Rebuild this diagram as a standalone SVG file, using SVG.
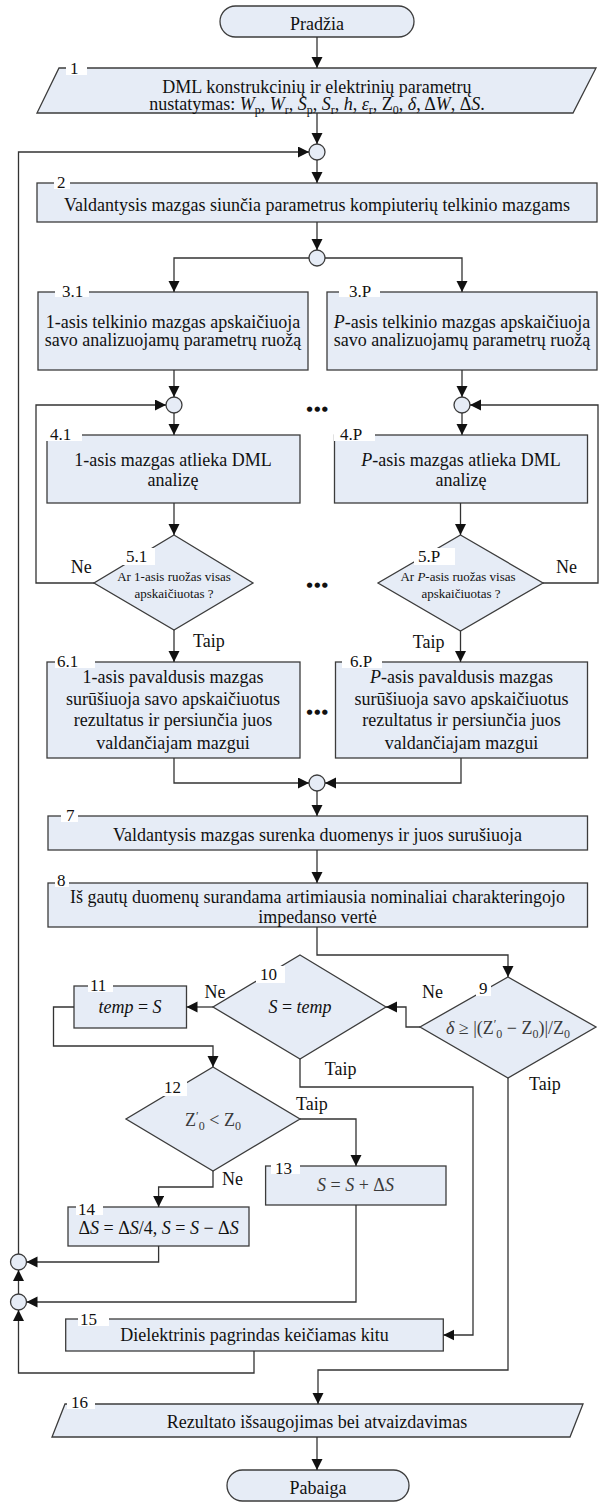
<svg xmlns="http://www.w3.org/2000/svg" width="599" height="1503" viewBox="0 0 599 1503">
<defs>
<marker id="ah" markerUnits="userSpaceOnUse" markerWidth="12" markerHeight="12" refX="11" refY="5.5" orient="auto"><path d="M0,0 L11,5.5 L0,11 Z" fill="#111"/></marker>
<style>
.b{fill:#e6ecf6;stroke:#3c3c3c;stroke-width:1.3}
.ln{fill:none;stroke:#333;stroke-width:1.3;marker-end:url(#ah)}
.t{font-family:"Liberation Serif","Times New Roman",serif;font-size:18px;fill:#111;text-anchor:middle}
.lb{font-family:"Liberation Serif","Times New Roman",serif;font-size:17px;fill:#111}
.yn{font-family:"Liberation Serif","Times New Roman",serif;font-size:18px;fill:#111}
.sm{font-size:13px}
.gr{fill:#3a3a3a}
.i{font-style:italic}
.sb{font-size:12px}
.w{fill:#fff}
.dots{font-family:"DejaVu Sans",sans-serif;font-size:7px;fill:#111;text-anchor:middle;letter-spacing:1.5px}
</style>
</defs>
<rect width="599" height="1503" fill="#fff"/>

<g id="start"><rect class="b" x="220" y="6" width="194" height="31" rx="15.5"/><text class="t" x="317" y="30">Pradžia</text></g>

<g id="n1"><path class="b" d="M59,68 L596,68 L573,113 L37,113 Z"/><rect class="w" x="66" y="61" width="21" height="14"/><text class="lb" x="70" y="74">1</text>
<text class="t" x="317" y="93">DML konstrukcinių ir elektrinių parametrų</text>
<text class="t" x="317" y="110">nustatymas: <tspan class="i">W</tspan><tspan class="sb" dy="4">p</tspan><tspan dy="-4">, </tspan><tspan class="i">W</tspan><tspan class="sb" dy="4">r</tspan><tspan dy="-4">, </tspan><tspan class="i">S</tspan><tspan class="sb" dy="4">p</tspan><tspan dy="-4">, </tspan><tspan class="i">S</tspan><tspan class="sb" dy="4">r</tspan><tspan dy="-4">, </tspan><tspan class="i">h</tspan>, <tspan class="i">ε</tspan><tspan class="sb" dy="4">r</tspan><tspan dy="-4">, Z</tspan><tspan class="sb" dy="4">0</tspan><tspan dy="-4">, </tspan><tspan class="i">δ</tspan>, Δ<tspan class="i">W</tspan>, Δ<tspan class="i">S</tspan>.</text></g>

<g id="jA"><circle class="b" cx="317" cy="152" r="8"/></g>

<g id="n2"><rect class="b" x="37" y="183" width="560" height="39"/><rect class="w" x="54" y="176" width="16" height="13"/><text class="lb" x="57" y="188">2</text>
<text class="t" x="317" y="211">Valdantysis mazgas siunčia parametrus kompiuterių telkinio mazgams</text></g>

<g id="jB"><circle class="b" cx="317" cy="258" r="8"/></g>

<g id="n3_1"><rect class="b" x="38" y="292" width="270" height="78"/><rect class="w" x="55" y="284" width="34" height="13"/><text class="lb" x="62" y="297">3.1</text>
<text class="t" x="173" y="328">1-asis telkinio mazgas apskaičiuoja</text><text class="t" x="173" y="346">savo analizuojamų parametrų ruožą</text></g>

<g id="n3_P"><rect class="b" x="327" y="292" width="270" height="78"/><rect class="w" x="339" y="284" width="41" height="13"/><text class="lb" x="349" y="297">3.P</text>
<text class="t" x="462" y="328"><tspan class="i">P</tspan>-asis telkinio mazgas apskaičiuoja</text><text class="t" x="462" y="346">savo analizuojamų parametrų ruožą</text></g>

<g id="jC"><circle class="b" cx="174" cy="405" r="8"/></g>
<g id="jD"><circle class="b" cx="462" cy="405" r="8"/></g>
<text class="dots" x="318" y="410.5">●●●</text>

<g id="n4_1"><rect class="b" x="47" y="435" width="253" height="68"/><rect class="w" x="46" y="427" width="36" height="14"/><text class="lb" x="50" y="440">4.1</text>
<text class="t" x="173" y="466">1-asis mazgas atlieka DML</text><text class="t" x="173" y="486">analizę</text></g>

<g id="n4_P"><rect class="b" x="334.5" y="435" width="253" height="68"/><rect class="w" x="334" y="427" width="41" height="14"/><text class="lb" x="340" y="440">4.P</text>
<text class="t" x="461" y="466"><tspan class="i">P</tspan>-asis mazgas atlieka DML</text><text class="t" x="461" y="486">analizę</text></g>

<g id="n5_1"><path class="b" d="M174,535 L253,583 L174,630 L94,583 Z"/><rect class="w" x="122" y="548" width="33" height="17"/><text class="lb" x="126" y="562">5.1</text>
<text class="t sm" x="174" y="581">Ar 1-asis ruožas visas</text><text class="t sm" x="174" y="598">apskaičiuotas ?</text></g>

<g id="n5_P"><path class="b" d="M460.5,535 L543,583 L460.5,631 L378,583 Z"/><rect class="w" x="414" y="548" width="41" height="17"/><text class="lb" x="418" y="562">5.P</text>
<text class="t sm" x="458" y="581">Ar <tspan class="i">P</tspan>-asis ruožas visas</text><text class="t sm" x="461" y="598">apskaičiuotas ?</text></g>
<text class="dots" x="318" y="587">●●●</text>

<g id="n6_1"><rect class="b" x="47" y="662" width="253" height="96"/><rect class="w" x="55" y="654" width="40" height="14"/><text class="lb" x="57" y="667">6.1</text>
<text class="t" x="173" y="683">1-asis pavaldusis mazgas</text><text class="t" x="173" y="704.5">surūšiuoja savo apskaičiuotus</text><text class="t" x="173" y="726">rezultatus ir persiunčia juos</text><text class="t" x="173" y="749">valdančiajam mazgui</text></g>

<g id="n6_P"><rect class="b" x="335.5" y="662" width="252" height="96"/><rect class="w" x="342" y="654" width="40" height="14"/><text class="lb" x="350" y="667">6.P</text>
<text class="t" x="461.5" y="683"><tspan class="i">P</tspan>-asis pavaldusis mazgas</text><text class="t" x="461.5" y="704.5">surūšiuoja savo apskaičiuotus</text><text class="t" x="461.5" y="726">rezultatus ir persiunčia juos</text><text class="t" x="461.5" y="749">valdančiajam mazgui</text></g>
<text class="dots" x="318" y="714">●●●</text>

<g id="jE"><circle class="b" cx="317" cy="783" r="8"/></g>

<g id="n7"><rect class="b" x="48" y="816" width="539.5" height="34"/><rect class="w" x="61" y="808" width="17" height="14"/><text class="lb" x="66" y="821">7</text>
<text class="t" x="317.5" y="841">Valdantysis mazgas surenka duomenys ir juos surušiuoja</text></g>

<g id="n8"><rect class="b" x="48" y="883" width="539.5" height="44"/><rect class="w" x="55" y="873" width="14" height="14"/><text class="lb" x="57" y="886">8</text>
<text class="t" x="317.5" y="902.5">Iš gautų duomenų surandama artimiausia nominaliai charakteringojo</text><text class="t" x="317.5" y="922.5">impedanso vertė</text></g>

<g id="n9"><path class="b" d="M508,977 L596,1027 L508,1078 L420,1027 Z"/><rect class="w" x="476" y="981" width="15" height="15"/><text class="lb" x="479" y="994">9</text>
<text class="t gr" x="508" y="1034"><tspan class="i">δ</tspan> ≥ |(Z<tspan class="sb" dy="-6">ʹ</tspan><tspan class="sb" dy="10">0</tspan><tspan dy="-4"> − Z</tspan><tspan class="sb" dy="4">0</tspan><tspan dy="-4">)|/Z</tspan><tspan class="sb" dy="4">0</tspan></text></g>

<g id="n10"><path class="b" d="M300,955 L386,1007 L300,1059 L213,1007 Z"/><rect class="w" x="256" y="966" width="29" height="17"/><text class="lb" x="260" y="980">10</text>
<text class="t" x="300" y="1013"><tspan class="i">S</tspan> = <tspan class="i">temp</tspan></text></g>

<g id="n11"><rect class="b" x="74" y="986" width="112.5" height="42"/><rect class="w" x="88" y="978" width="25" height="14"/><text class="lb" x="90" y="991">11</text>
<text class="t" x="130" y="1013"><tspan class="i">temp</tspan> = <tspan class="i">S</tspan></text></g>

<g id="n12"><path class="b" d="M213,1067 L300,1119 L213,1171 L126,1119 Z"/><rect class="w" x="162" y="1079" width="25" height="17"/><text class="lb" x="164" y="1093">12</text>
<text class="t gr" x="213" y="1126">Z<tspan class="sb" dy="-6">ʹ</tspan><tspan class="sb" dy="10">0</tspan><tspan dy="-4"> &lt; Z</tspan><tspan class="sb" dy="4">0</tspan></text></g>

<g id="n13"><rect class="b" x="265.6" y="1166" width="180.4" height="39"/><rect class="w" x="271" y="1160" width="29" height="14"/><text class="lb" x="275" y="1174">13</text>
<text class="t gr" x="355.5" y="1191"><tspan class="i">S</tspan> = <tspan class="i">S</tspan> + Δ<tspan class="i">S</tspan></text></g>

<g id="n14"><rect class="b" x="68" y="1207" width="181" height="39"/><rect class="w" x="76" y="1201" width="27" height="14"/><text class="lb" x="78" y="1215">14</text>
<text class="t" x="158.6" y="1234">Δ<tspan class="i">S</tspan> = Δ<tspan class="i">S</tspan>/4, <tspan class="i">S</tspan> = <tspan class="i">S</tspan> − Δ<tspan class="i">S</tspan></text></g>

<g id="jF"><circle class="b" cx="18.5" cy="1262" r="8"/></g>
<g id="jG"><circle class="b" cx="18.5" cy="1302" r="8"/></g>

<g id="n15"><rect class="b" x="65.7" y="1319" width="377.6" height="32"/><rect class="w" x="78" y="1312" width="31" height="14"/><text class="lb" x="80" y="1325">15</text>
<text class="t" x="254.5" y="1341">Dielektrinis pagrindas keičiamas kitu</text></g>

<g id="n16"><path class="b" d="M65,1404 L583,1404 L570,1437 L52,1437 Z"/><rect class="w" x="67" y="1395" width="28" height="14"/><text class="lb" x="71" y="1408">16</text>
<text class="t" x="317" y="1428">Rezultato išsaugojimas bei atvaizdavimas</text></g>

<g id="end"><rect class="b" x="227" y="1470" width="182" height="31" rx="15.5"/><text class="t" x="318" y="1494">Pabaiga</text></g>

<g id="connectors">
<path class="ln" d="M317,37 V68"/>
<path class="ln" d="M317,113 V144"/>
<path class="ln" d="M18.5,1254 V152 H309"/>
<path class="ln" d="M317,160 V183"/>
<path class="ln" d="M317,222 V250"/>
<path class="ln" d="M309,258 H174 V292"/>
<path class="ln" d="M325,258 H462 V292"/>
<path class="ln" d="M174,370 V397"/>
<path class="ln" d="M462,370 V397"/>
<path class="ln" d="M174,413 V435"/>
<path class="ln" d="M462,413 V435"/>
<path class="ln" d="M174,503 V535"/>
<path class="ln" d="M460.5,503 V535"/>
<path class="ln" d="M94,583 H36 V405 H166"/>
<path class="ln" d="M543,583 H598 V405 H470"/>
<path class="ln" d="M174,630 V662"/>
<path class="ln" d="M460.5,631 V662"/>
<path class="ln" d="M174,758 V783 H309"/>
<path class="ln" d="M461,758 V783 H325"/>
<path class="ln" d="M317,791 V816"/>
<path class="ln" d="M317,850 V883"/>
<path class="ln" d="M317,927 V955 H508 V977"/>
<path class="ln" d="M420,1027 H406 V1007 H386"/>
<path class="ln" d="M213,1007 H186.5"/>
<path class="ln" d="M74,1007 H53.5 V1046 H213 V1067"/>
<path class="ln" d="M300,1059 V1087 H473 V1335 H443.3"/>
<path class="ln" d="M508,1078 V1370 H318 V1404"/>
<path class="ln" d="M300,1119 H356 V1166"/>
<path class="ln" d="M213,1171 V1187 H158.6 V1207"/>
<path class="ln" d="M158.6,1246 V1262 H26.5"/>
<path class="ln" d="M356,1205 V1302 H26.5"/>
<path class="ln" d="M18.5,1294 V1270"/>
<path class="ln" d="M254,1351 V1373 H18.5 V1310"/>
<path class="ln" d="M317,1437 V1470"/>
</g>

<g id="answers">
<text class="yn" x="70.7" y="573">Ne</text>
<text class="yn" x="556" y="573">Ne</text>
<text class="yn" x="193" y="647">Taip</text>
<text class="yn" x="412.7" y="648">Taip</text>
<text class="yn" x="204.4" y="998">Ne</text>
<text class="yn" x="422" y="998">Ne</text>
<text class="yn" x="324.8" y="1075">Taip</text>
<text class="yn" x="529" y="1090">Taip</text>
<text class="yn" x="296" y="1110">Taip</text>
<text class="yn" x="222" y="1185">Ne</text>
</g>
</svg>
